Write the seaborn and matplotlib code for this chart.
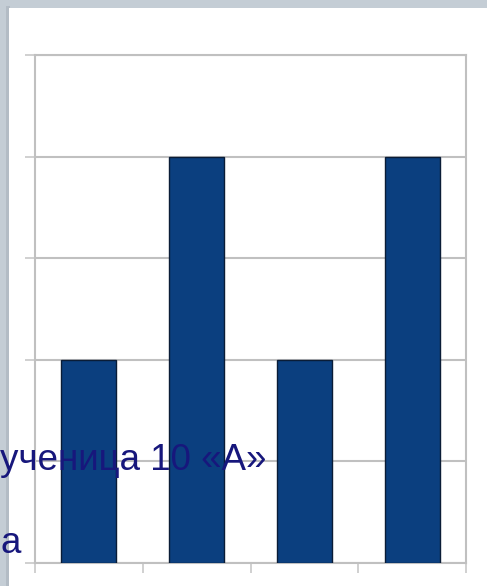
import matplotlib
matplotlib.use("Agg")
import matplotlib.pyplot as plt
import seaborn as sns
import pandas as pd
from matplotlib.patches import Rectangle

categories = ["1", "2", "3", "4"]
values = [2, 4, 2, 4]
y_ticks = [0, 1, 2, 3, 4, 5]

sns.set_style("white")
plt.rcParams["font.family"] = ["Liberation Sans", "DejaVu Sans"]

W, H = 487, 586
fig = plt.figure(figsize=(W / 100, H / 100), dpi=100)
fig.patch.set_facecolor("#c4cdd5")

# white slide card with a soft left shadow
fig.patches.append(Rectangle((6 / W, 0), 4 / W, 1 - 6 / H, transform=fig.transFigure,
                             facecolor="#b3bcc5", edgecolor="none", zorder=-10))
fig.patches.append(Rectangle((9 / W, 0), 1, 1 - 8 / H, transform=fig.transFigure,
                             facecolor="white", edgecolor="none", zorder=-9))

left, right, top, bottom = 35, 466, 55, 563
ax = fig.add_axes([left / W, (H - bottom) / H, (right - left) / W, (bottom - top) / H])
ax.set_zorder(1)
ax.set_facecolor("none")

df = pd.DataFrame({"cat": categories, "val": values})
sns.barplot(data=df, x="cat", y="val", color="#0b3f7f", saturation=1, width=0.51,
            edgecolor="#0a1c36", linewidth=1.0, ax=ax, zorder=3)

ax.set_ylim(0, 5)
ax.set_xlim(-0.5, len(categories) - 0.5)
ax.set_yticks(y_ticks)
ax.set_xticks([i - 0.5 for i in range(len(categories) + 1)])
ax.set_xticklabels([])
ax.set_yticklabels([])
ax.set_xlabel("")
ax.set_ylabel("")
ax.grid(axis="y", color="#c0c0c0", linewidth=1.5, zorder=0)
ax.set_axisbelow(True)
ax.tick_params(axis="both", which="both", length=7, width=1.2, color="#c8c8c8",
               direction="out", left=True, bottom=True)
for side in ["left", "right", "top", "bottom"]:
    ax.spines[side].set_visible(True)
    ax.spines[side].set_color("#c0c0c0")
    ax.spines[side].set_linewidth(1.5)

# caption text overlapping the chart
txt_color = "#17177c"
fig.text(0.5 / W, 1 - 470 / H, "ученица 10 «А»", fontsize=26.5, color=txt_color,
         ha="left", va="baseline", zorder=10)
fig.text(0.5 / W, 1 - 553 / H, "а", fontsize=26.5, color=txt_color,
         ha="left", va="baseline", zorder=10)

fig.savefig("out.png", dpi=100, facecolor=fig.get_facecolor())
